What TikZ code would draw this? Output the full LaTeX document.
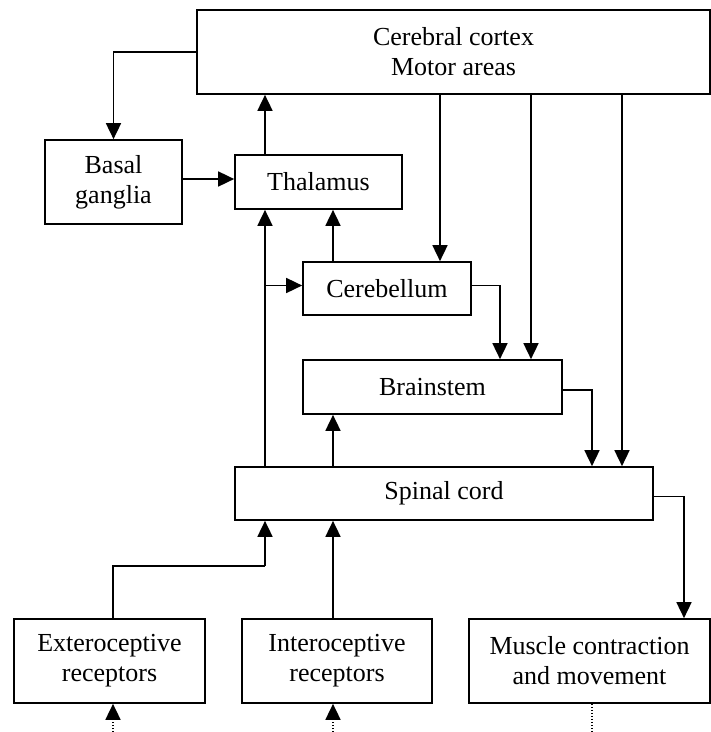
\documentclass[tikz,border=0pt]{standalone}
\usepackage{fontspec}
\setmainfont{Liberation Serif}
\usetikzlibrary{arrows.meta}

\tikzset{
  box/.style={draw, line width=1.7pt, rectangle, inner sep=0pt, align=center,
    font=\fontsize{26}{30}\selectfont},
  arr/.style={line width=1.7pt, -{Triangle[length=16pt, width=15pt]}},
  link/.style={line width=1.7pt},
  dotline/.style={line width=1.1pt, dash pattern=on 1.4pt off 1.6pt}
}

\begin{document}
\begin{tikzpicture}[x=1pt, y=-1pt]
\useasboundingbox (0,0) rectangle (711,732);

% blocks
\node[box, minimum width=513pt, minimum height=84pt] (cortex) at (453.5,52) {Cerebral cortex\\Motor areas};
\node[box, minimum width=137pt, minimum height=84pt] (basal) at (113.5,182) {Basal\\ganglia};
\node[box, minimum width=167pt, minimum height=54pt] (thal) at (318.5,182) {Thalamus};
\node[box, minimum width=168pt, minimum height=53pt] (cereb) at (387,288.5) {Cerebellum};
\node[box, minimum width=259pt, minimum height=54pt] (brain) at (432.5,387) {Brainstem};
\node[box, minimum width=418pt, minimum height=53pt] (spinal) at (444,493.5) {Spinal cord};
\node[box, minimum width=191pt, minimum height=84pt] (ext) at (109.5,661) {Exteroceptive\\receptors};
\node[box, minimum width=190pt, minimum height=84pt] (int) at (337,661) {Interoceptive\\receptors};
\node[box, minimum width=241pt, minimum height=84pt] (muscle) at (589.5,661) {Muscle contraction\\and movement};

% vertical tracks
\coordinate (cA) at (265,0);
\coordinate (cB) at (333,0);
\coordinate (cC) at (440,0);
\coordinate (cD) at (500,0);
\coordinate (cE) at (531,0);
\coordinate (cF) at (592,0);
\coordinate (cG) at (622,0);
\coordinate (cH) at (684,0);
\coordinate (kI) at (113,566);
\coordinate (kA) at (265,566);
\coordinate (inE) at (113,732);
\coordinate (inEt) at (113,719);
\coordinate (inI) at (333,732);
\coordinate (inIt) at (333,719);
\coordinate (outM) at (592,732);

% cortex and basal ganglia loop
\draw[arr] (cortex.west) -| (basal.north);
\draw[arr] ([yshift=3pt]basal.east) -- ([yshift=3pt]thal.west);
\draw[arr] (thal.north -| cA) -- (cortex.south -| cA);

% ascending pathways
\draw[arr] (spinal.north -| cA) -- (thal.south -| cA);
\draw[arr] ([yshift=3pt]cereb.west -| cA) -- ([yshift=3pt]cereb.west);
\draw[arr] (cereb.north -| cB) -- (thal.south -| cB);
\draw[arr] (spinal.north -| cB) -- (brain.south -| cB);

% descending pathways
\draw[arr] (cortex.south -| cC) -- (cereb.north -| cC);
\draw[arr] ([yshift=3pt]cereb.east) -| (brain.north -| cD);
\draw[arr] (cortex.south -| cE) -- (brain.north -| cE);
\draw[arr] ([yshift=-3pt]brain.east) -| (spinal.north -| cF);
\draw[arr] (cortex.south -| cG) -- (spinal.north -| cG);
\draw[arr] ([yshift=-3pt]spinal.east) -| (muscle.north -| cH);

% receptor inputs
\draw[link] (ext.north -| kI) -- (kI) -- (kA);
\draw[arr] (kA) -- (spinal.south -| kA);
\draw[arr] (int.north -| cB) -- (spinal.south -| cB);

% external stimuli and output
\draw[dotline] (inE) -- (inEt);
\draw[arr] (inEt) -- (ext.south -| inEt);
\draw[dotline] (inI) -- (inIt);
\draw[arr] (inIt) -- (int.south -| inIt);
\draw[dotline] (muscle.south -| outM) -- (outM);
\end{tikzpicture}
\end{document}
